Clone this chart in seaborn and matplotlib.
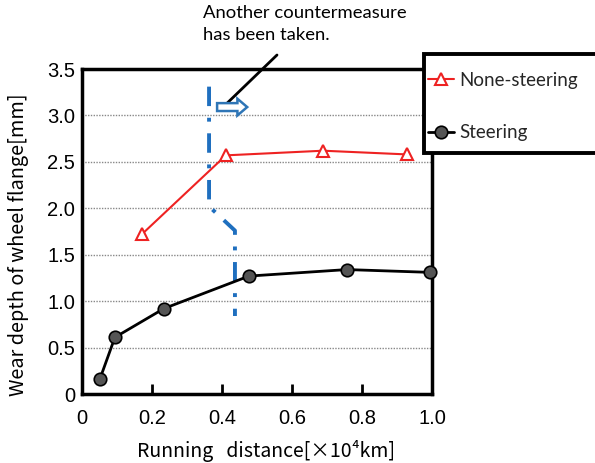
import matplotlib
matplotlib.use("Agg")
import matplotlib.pyplot as plt
import seaborn as sns
import pandas as pd
import numpy as np
from matplotlib.patches import FancyArrow, Rectangle

# ---- data ----
steer_x = [0.051, 0.094, 0.234, 0.477, 0.757, 0.994]
steer_y = [0.16, 0.61, 0.92, 1.27, 1.34, 1.31]
none_x = [0.171, 0.411, 0.689, 0.929]
none_y = [1.72, 2.57, 2.62, 2.58]
boundary_x = [0.363, 0.363, 0.437, 0.437]
boundary_y = [3.31, 2.02, 1.76, 0.84]
xticks = [0, 0.2, 0.4, 0.6, 0.8, 1.0]
xtick_labels = ["0", "0.2", "0.4", "0.6", "0.8", "1.0"]
yticks = [0, 0.5, 1.0, 1.5, 2.0, 2.5, 3.0, 3.5]
ytick_labels = ["0", "0.5", "1.0", "1.5", "2.0", "2.5", "3.0", "3.5"]
series_names = ["None-steering", "Steering"]
note_text = "Another countermeasure\nhas been taken."
xlabel = "Running   distance[×10⁴km]"
ylabel = "Wear depth of wheel flange[mm]"

sns.set_theme(style="white")
plt.rcParams["font.family"] = ["Liberation Sans", "DejaVu Sans"]

W, H = 595, 463
fig = plt.figure(figsize=(W / 100, H / 100), dpi=100)
ax = fig.add_axes([82 / W, 1 - 394 / H, 350 / W, 325 / H])

df_none = pd.DataFrame({"x": none_x, "y": none_y})
df_steer = pd.DataFrame({"x": steer_x, "y": steer_y})

sns.lineplot(data=df_none, x="x", y="y", ax=ax, color="#ee2222", lw=1.5,
             marker="^", markersize=9, markerfacecolor="white",
             markeredgecolor="#ee2222", markeredgewidth=1.5, zorder=5,
             label=series_names[0], legend=False)
sns.lineplot(data=df_steer, x="x", y="y", ax=ax, color="black", lw=2,
             marker="o", markersize=9, markerfacecolor="#555555",
             markeredgecolor="black", markeredgewidth=1.2, zorder=6,
             clip_on=False, label=series_names[1], legend=False)

ax.plot(boundary_x, boundary_y, color="#1f6fbf", lw=2.8,
        linestyle=(0, (5, 3, 1, 3)), zorder=4)

ax.add_patch(FancyArrow(0.386, 3.09, 0.058, 0, width=0.085, head_width=0.18,
                        head_length=0.028, length_includes_head=False,
                        facecolor="white", edgecolor="#2e75b6", lw=1.8, zorder=7))

ax.set_xlim(0, 1.0)
ax.set_ylim(0, 3.5)
ax.set_xticks(xticks)
ax.set_xticklabels(xtick_labels)
ax.set_yticks(yticks)
ax.set_yticklabels(ytick_labels)
ax.tick_params(axis="x", direction="in", length=7, width=2, colors="black",
               labelsize=14.5, pad=11, bottom=True)
ax.tick_params(axis="y", length=0, labelsize=14.5, pad=5, labelcolor="black")
for lab in ax.get_xticklabels() + ax.get_yticklabels():
    lab.set_color("black")
ax.yaxis.grid(True, linestyle=(0, (1, 1)), color="#888888", lw=1)
ax.xaxis.grid(False)
for s in ax.spines.values():
    s.set_color("black")
    s.set_linewidth(2.5)
    s.set_visible(True)

ax.set_xlabel(xlabel, fontsize=14, family=["Noto Sans CJK JP", "DejaVu Sans"],
              color="black", va="center")
ax.xaxis.set_label_coords((266 - 82) / 350, (394 - 451) / 325)
ax.set_ylabel(ylabel, fontsize=14.3, family=["Noto Sans CJK JP", "DejaVu Sans"],
              color="black", va="center")
ax.yaxis.set_label_coords((19 - 82) / 350, (394 - 245) / 325)

# annotation
fig.text(203 / W, 1 - 5 / H, note_text, ha="left", va="top", fontsize=13.3,
         family=["Lato", "DejaVu Sans"], color="black", linespacing=1.45)
ax.annotate("", xy=(0.414, 3.13), xycoords="data",
            xytext=(277 / W, 1 - 55 / H), textcoords="figure fraction",
            arrowprops=dict(arrowstyle="-", lw=2, color="black",
                            shrinkA=0, shrinkB=0), annotation_clip=False)

# legend box
fig.add_artist(Rectangle((424 / W, 1 - 153 / H), 180 / W, 99 / H,
                         transform=fig.transFigure, facecolor="white",
                         edgecolor="black", lw=2.8, zorder=4, clip_on=False))
handles, labels = ax.get_legend_handles_labels()
leg = fig.legend(handles, labels, loc="upper left",
                 bbox_to_anchor=(424 / W, 1 - 68 / H), frameon=False,
                 handlelength=1.4, handletextpad=0.3,
                 labelspacing=1.9, borderaxespad=0, borderpad=0.2,
                 prop={"family": ["Lato", "DejaVu Sans"], "size": 13.5})
leg.set_zorder(5)

fig.savefig("out.png", dpi=100)
